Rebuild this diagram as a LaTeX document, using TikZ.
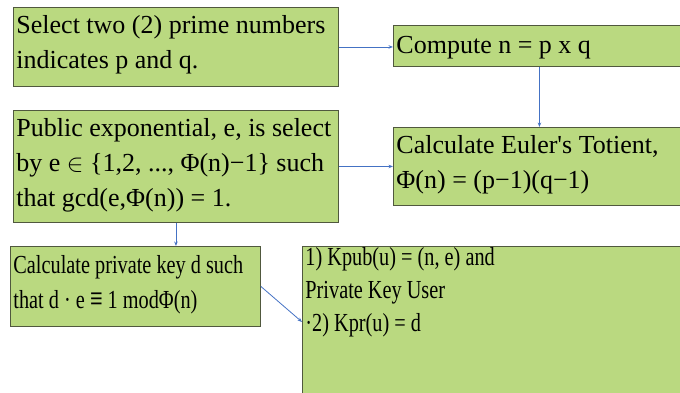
\documentclass[tikz,border=0pt]{standalone}
\usepackage{fontspec}
\setmainfont{Liberation Serif}
\newfontfamily\narrowserif{Liberation Serif}[FakeStretch=0.78]
\usetikzlibrary{arrows.meta,positioning,calc}
\definecolor{boxgreen}{RGB}{186,217,128}
\definecolor{boxline}{RGB}{80,88,62}
\definecolor{flowblue}{RGB}{68,114,196}
% text block: width, height, first baseline, text
\newcommand{\cellpar}[4]{\parbox[t][#2pt][t]{#1pt}{\rule{0pt}{#3pt}#4}}
\tikzset{rsa box/.style={draw=boxline, fill=boxgreen, line width=0.9pt, anchor=north west, inner xsep=3pt, inner ysep=0pt, align=left, font=\fontsize{26}{35}\selectfont}}
\tikzset{rsa narrow/.style={rsa box, font=\narrowserif\fontsize{26}{35}\selectfont}}
\tikzset{rsa edge/.style={-{Stealth[length=4.5pt,width=3.5pt]}, draw=flowblue, line width=0.8pt}}

\begin{document}
\begin{tikzpicture}[x=1pt,y=-1pt]
	\useasboundingbox (0,0) rectangle (680,392);

	\node[rsa box] (sel) at (13,7) {\cellpar{319}{79}{26}{Select two (2) prime numbers\\indicates p and q.}};
	\node[rsa box] (cmp) at (393,25) {\cellpar{286}{41}{28}{Compute n = p x q}};
	\node[rsa box] (pub) at (13,110) {\cellpar{319}{112}{26}{Public exponential, e, is select\\by e $\in$ \{1,2, ..., Φ(n)−1\} such\\that gcd(e,Φ(n)) = 1.}};
	\node[rsa box] (eul) at (393,127) {\cellpar{286}{78}{26}{Calculate Euler\textquotesingle s Totient,\\Φ(n) = (p−1)(q−1)}};
	\node[rsa narrow] (prv) at (10,246) {\cellpar{244}{80}{27}{Calculate private key d such\\that d · e \raisebox{-2.5pt}{\scalebox{1.1}[1.35]{≡}} 1 modΦ(n)}};
	\node[rsa narrow, font=\narrowserif\fontsize{26}{33}\selectfont] (key) at (302,246) {\cellpar{377}{151}{19}{1) Kpub(u) = (n, e) and\\Private Key User\\·2) Kpr(u) = d}};

	\draw[rsa edge] (sel.east) -- (sel.east -| cmp.west);
	\draw[rsa edge] (cmp.south) -- (eul.north);
	\draw[rsa edge] (pub.east) -- (pub.east -| eul.west);
	\draw[rsa edge] (pub.south) -- (pub.south |- prv.north);
	\draw[rsa edge] (prv.east) -- (key.west);
\end{tikzpicture}
\end{document}
